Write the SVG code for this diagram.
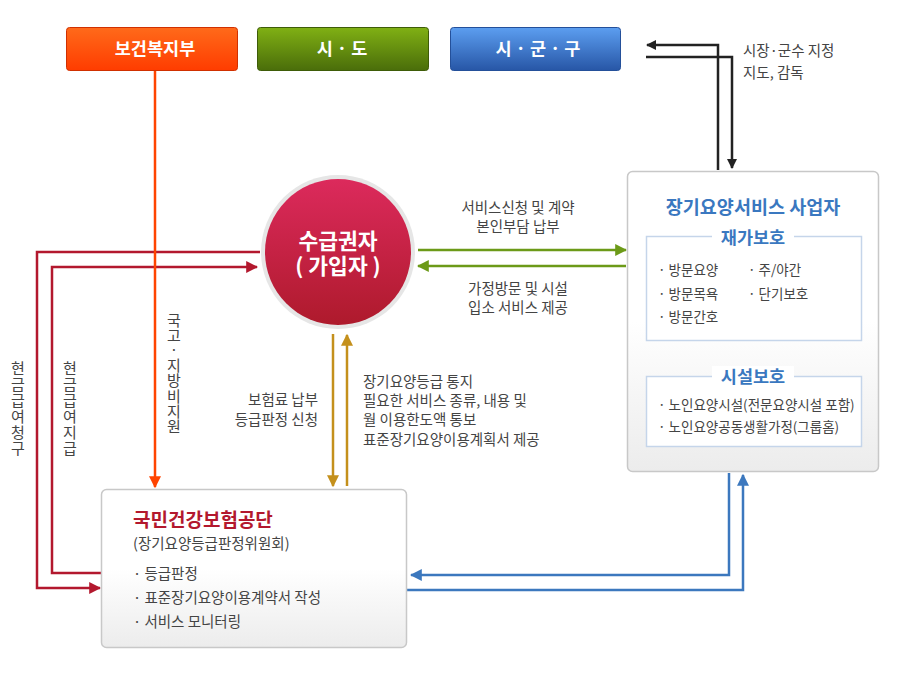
<svg xmlns="http://www.w3.org/2000/svg" width="900" height="677" viewBox="0 0 900 677">
<defs>
<linearGradient id="gOr" x1="0" y1="0" x2="0" y2="1"><stop offset="0" stop-color="#ff6a1a"/><stop offset="1" stop-color="#ff3c00"/></linearGradient>
<linearGradient id="gGr" x1="0" y1="0" x2="0" y2="1"><stop offset="0" stop-color="#80b014"/><stop offset="1" stop-color="#4a6d0a"/></linearGradient>
<linearGradient id="gBl" x1="0" y1="0" x2="0" y2="1"><stop offset="0" stop-color="#5c9ef0"/><stop offset="1" stop-color="#2756a6"/></linearGradient>
<linearGradient id="gCircle" x1="0" y1="0" x2="0" y2="1"><stop offset="0" stop-color="#dc2a5c"/><stop offset="1" stop-color="#ae1a2c"/></linearGradient>
<linearGradient id="gBox" x1="0" y1="0" x2="0" y2="1"><stop offset="0" stop-color="#ffffff"/><stop offset="0.5" stop-color="#ffffff"/><stop offset="1" stop-color="#ececec"/></linearGradient>
<marker id="mBlack" viewBox="0 0 10 10" refX="9" refY="5" markerWidth="10" markerHeight="10" markerUnits="userSpaceOnUse" orient="auto"><path d="M0,0 L10,5 L0,10 z" fill="#222"/></marker>
<marker id="mGreen" viewBox="0 0 10 10" refX="9" refY="5" markerWidth="12" markerHeight="12" markerUnits="userSpaceOnUse" orient="auto"><path d="M0,0 L10,5 L0,10 z" fill="#6c9a18"/></marker>
<marker id="mRed" viewBox="0 0 10 10" refX="9" refY="5" markerWidth="12" markerHeight="12" markerUnits="userSpaceOnUse" orient="auto"><path d="M0,0 L10,5 L0,10 z" fill="#b3182e"/></marker>
<marker id="mOrange" viewBox="0 0 10 10" refX="9" refY="5" markerWidth="12" markerHeight="12" markerUnits="userSpaceOnUse" orient="auto"><path d="M0,0 L10,5 L0,10 z" fill="#ff4400"/></marker>
<marker id="mGold" viewBox="0 0 10 10" refX="9" refY="5" markerWidth="12" markerHeight="12" markerUnits="userSpaceOnUse" orient="auto"><path d="M0,0 L10,5 L0,10 z" fill="#c4901c"/></marker>
<marker id="mBlue" viewBox="0 0 10 10" refX="9" refY="5" markerWidth="12" markerHeight="12" markerUnits="userSpaceOnUse" orient="auto"><path d="M0,0 L10,5 L0,10 z" fill="#3c78be"/></marker>
</defs>
<style>
text{font-family:"Noto Sans CJK KR","Noto Sans",sans-serif;}
.top{font-size:17.5px;font-weight:bold;fill:#fff;text-anchor:middle;}
.lbl{font-size:14.5px;fill:#444;}
.mid{text-anchor:middle;}
.end{text-anchor:end;}
.vert{font-size:15px;fill:#444;text-anchor:middle;}
.item{font-size:13.5px;fill:#444;}
.btitle{font-size:18.5px;font-weight:bold;fill:#3a78c0;}
.sub{font-size:17.5px;font-weight:bold;fill:#3a78c0;text-anchor:middle;}
.box{fill:url(#gBox);stroke:#c8c8c8;stroke-width:1.5;}
.inner{fill:#fff;stroke:#c5d5ea;stroke-width:1.5;}
.c{fill:none;stroke-width:2.5;}
</style>
<rect width="900" height="677" fill="#fff"/>

<g id="node-mohw"><rect x="66.5" y="27.5" width="171" height="43" rx="3" fill="url(#gOr)" stroke="#d03000"/><text class="top" x="155" y="55">보건복지부</text></g>
<g id="node-sido"><rect x="257.5" y="27.5" width="171" height="43" rx="3" fill="url(#gGr)" stroke="#3e5c08"/><text class="top" x="342" y="55">시 · 도</text></g>
<g id="node-sigungu"><rect x="450.5" y="27.5" width="170" height="43" rx="3" fill="url(#gBl)" stroke="#24509a"/><text class="top" x="538" y="55">시 · 군 · 구</text></g>

<g id="connectors">
<polyline class="c" points="718,170 718,45 647,45" stroke="#222" stroke-width="2" marker-end="url(#mBlack)"/>
<polyline class="c" points="646,57 732,57 732,168" stroke="#222" stroke-width="2" marker-end="url(#mBlack)"/>
<line class="c" x1="418" y1="250" x2="626" y2="250" stroke="#6c9a18" marker-end="url(#mGreen)"/>
<line class="c" x1="626" y1="266" x2="418" y2="266" stroke="#6c9a18" marker-end="url(#mGreen)"/>
<polyline class="c" points="260,252 37,252 37,588 100,588" stroke="#b3182e" marker-end="url(#mRed)"/>
<polyline class="c" points="101,573 52,573 52,267 257,267" stroke="#b3182e" marker-end="url(#mRed)"/>
<line class="c" x1="155" y1="71" x2="155" y2="487" stroke="#ff4400" marker-end="url(#mOrange)"/>
<line class="c" x1="333" y1="334" x2="333" y2="486" stroke="#c4901c" marker-end="url(#mGold)"/>
<line class="c" x1="347" y1="486" x2="347" y2="335" stroke="#c4901c" marker-end="url(#mGold)"/>
<polyline class="c" points="729,473 729,575 411,575" stroke="#3c78be" marker-end="url(#mBlue)"/>
<polyline class="c" points="407,590 743,590 743,475" stroke="#3c78be" marker-end="url(#mBlue)"/>
</g>

<g id="label-designation"><text class="lbl" x="743" y="56" font-size="15">시장·군수 지정</text><text class="lbl" x="743" y="78" font-size="15">지도, 감독</text></g>
<g id="label-service-req"><text class="lbl mid" x="518" y="213">서비스신청 및 계약</text><text class="lbl mid" x="518" y="232">본인부담 납부</text></g>
<g id="label-service-prov"><text class="lbl mid" x="518" y="294">가정방문 및 시설</text><text class="lbl mid" x="518" y="313">입소 서비스 제공</text></g>
<g id="label-premium"><text class="lbl end" x="318" y="405">보험료 납부</text><text class="lbl end" x="318" y="425">등급판정 신청</text></g>
<g id="label-notice"><text class="lbl" x="363" y="387">장기요양등급 통지</text><text class="lbl" x="363" y="406">필요한 서비스 종류, 내용 및</text><text class="lbl" x="363" y="425">월 이용한도액 통보</text><text class="lbl" x="363" y="445">표준장기요양이용계획서 제공</text></g>
<g id="label-claim"><text class="vert"><tspan x="18" y="374">현</tspan><tspan x="18" y="390">금</tspan><tspan x="18" y="406">급</tspan><tspan x="18" y="422">여</tspan><tspan x="18" y="438">청</tspan><tspan x="18" y="454">구</tspan></text></g>
<g id="label-pay"><text class="vert"><tspan x="70" y="374">현</tspan><tspan x="70" y="390">금</tspan><tspan x="70" y="406">급</tspan><tspan x="70" y="422">여</tspan><tspan x="70" y="438">지</tspan><tspan x="70" y="454">급</tspan></text></g>
<g id="label-subsidy"><text class="vert"><tspan x="174" y="326">국</tspan><tspan x="174" y="341">고</tspan><tspan x="174" y="355">·</tspan><tspan x="174" y="371">지</tspan><tspan x="174" y="386">방</tspan><tspan x="174" y="402">비</tspan><tspan x="174" y="417">지</tspan><tspan x="174" y="432">원</tspan></text></g>

<g id="node-beneficiary">
<circle cx="338" cy="252" r="77" fill="#e6e6e6"/>
<circle cx="338" cy="252" r="73" fill="url(#gCircle)"/>
<text x="338" y="249" font-size="21.5" font-weight="bold" fill="#fff" text-anchor="middle">수급권자</text>
<text x="338" y="274" font-size="21.5" font-weight="bold" fill="#fff" text-anchor="middle">( 가입자 )</text>
</g>

<g id="node-provider">
<rect class="box" x="627.5" y="171.5" width="251" height="300" rx="5"/>
<text class="btitle mid" x="753" y="214">장기요양서비스 사업자</text>
<rect class="inner" x="646.5" y="236.5" width="215" height="104"/>
<rect x="712" y="227" width="82" height="20" fill="#fff"/>
<text class="sub" x="753" y="244">재가보호</text>
<text class="item" x="658" y="275">· 방문요양</text>
<text class="item" x="658" y="299">· 방문목욕</text>
<text class="item" x="658" y="322">· 방문간호</text>
<text class="item" x="748" y="275">· 주/야간</text>
<text class="item" x="748" y="299">· 단기보호</text>
<rect class="inner" x="646.5" y="376.5" width="215" height="70"/>
<rect x="712" y="366" width="82" height="20" fill="#fff"/>
<text class="sub" x="753" y="383">시설보호</text>
<text class="item" x="658" y="410">· 노인요양시설(전문요양시설 포함)</text>
<text class="item" x="658" y="432">· 노인요양공동생활가정(그룹홈)</text>
</g>

<g id="node-nhis">
<rect class="box" x="101.5" y="489.5" width="305" height="158" rx="5"/>
<text x="133" y="527" font-size="19" font-weight="bold" fill="#b3182e">국민건강보험공단</text>
<text class="lbl" x="133" y="549" font-size="15">(장기요양등급판정위원회)</text>
<text class="lbl" x="133" y="579" font-size="15">· 등급판정</text>
<text class="lbl" x="133" y="603" font-size="15">· 표준장기요양이용계약서 작성</text>
<text class="lbl" x="133" y="627" font-size="15">· 서비스 모니터링</text>
</g>
</svg>
